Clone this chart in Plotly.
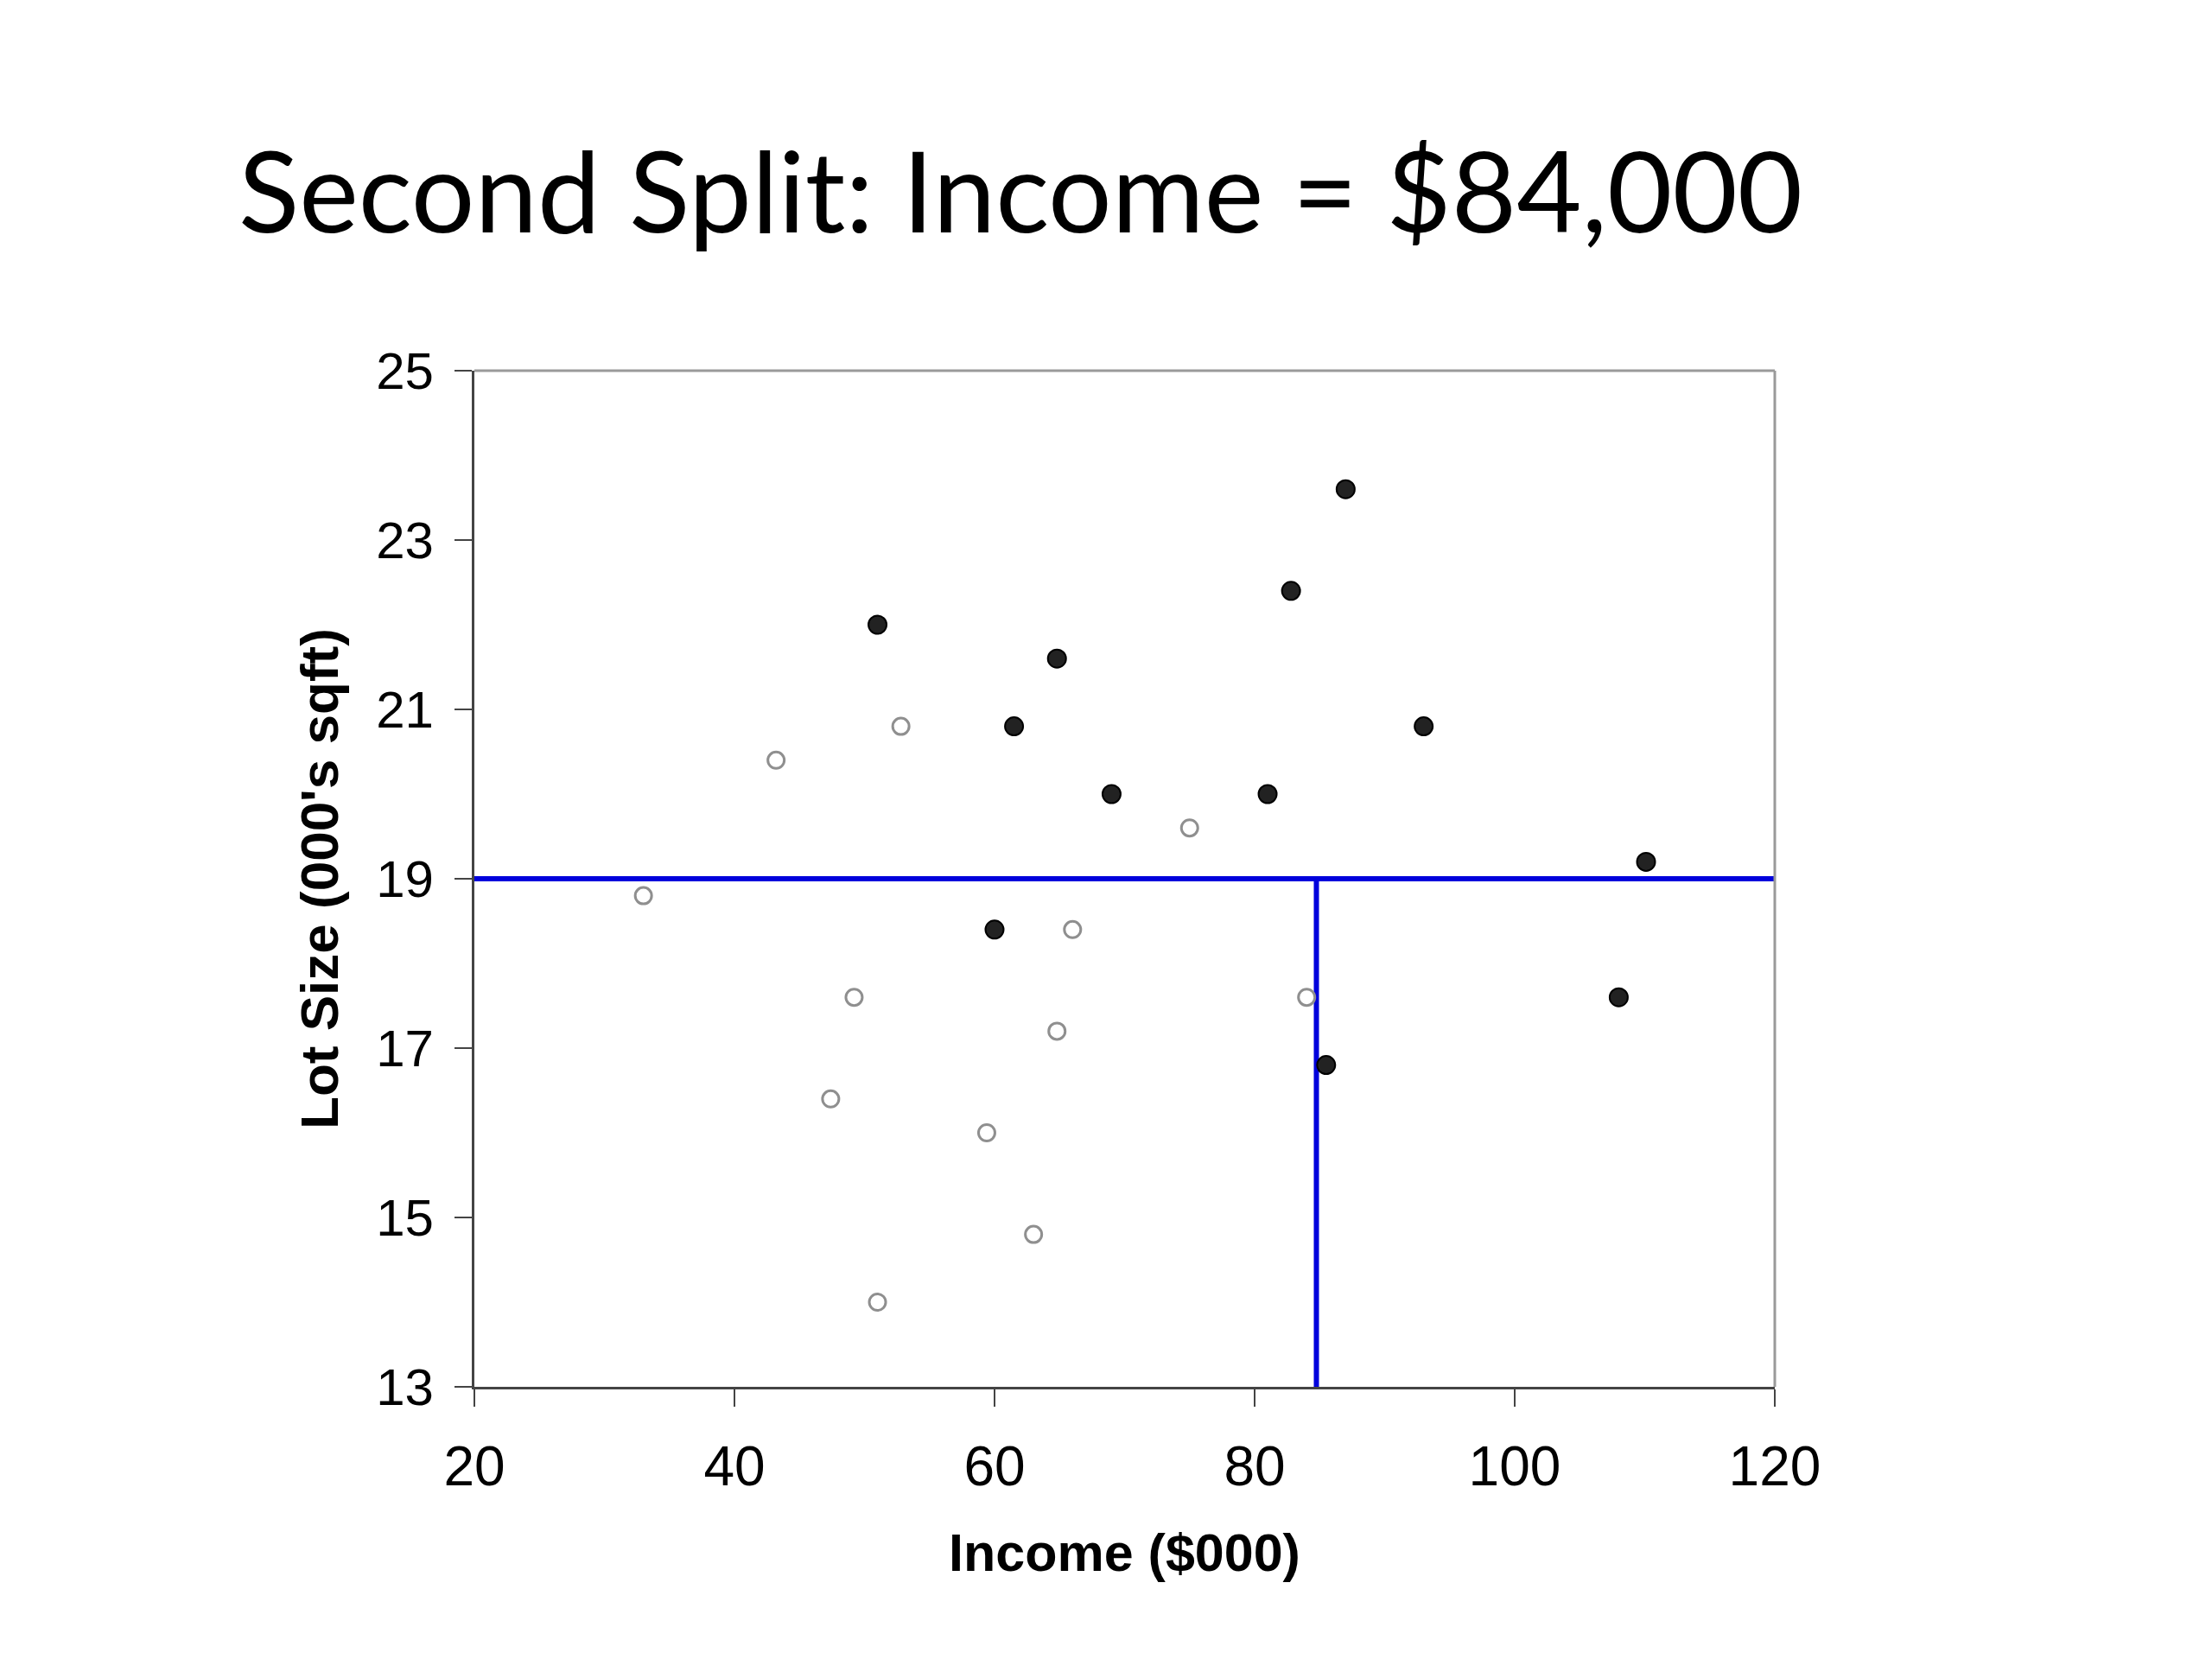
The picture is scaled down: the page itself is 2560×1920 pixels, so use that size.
import plotly.graph_objects as go

# Riding mowers data (Income $000, Lot Size 000's sqft)
owner_income = [60.0, 85.5, 64.8, 61.5, 87.0, 110.1, 108.0, 82.8, 69.0, 93.0, 51.0, 81.0]
owner_lot = [18.4, 16.8, 21.6, 20.8, 23.6, 19.2, 17.6, 22.4, 20.0, 20.8, 22.0, 20.0]
nonowner_income = [75.0, 52.8, 64.8, 43.2, 84.0, 49.2, 59.4, 66.0, 47.4, 33.0, 51.0, 63.0]
nonowner_lot = [19.6, 20.8, 17.2, 20.4, 17.6, 17.6, 16.0, 18.4, 16.4, 18.8, 14.0, 14.8]

first_split_lot = 19.0
second_split_income = 84.75
x_range = [20, 120]
y_range = [13, 25]
x_ticks = [20, 40, 60, 80, 100, 120]
y_ticks = [13, 15, 17, 19, 21, 23, 25]

fig = go.Figure()

fig.add_trace(go.Scatter(
    x=[x_range[0], x_range[1]], y=[first_split_lot, first_split_lot],
    mode="lines", line=dict(color="#0000DC", width=6), showlegend=False, hoverinfo="skip"))
fig.add_trace(go.Scatter(
    x=[second_split_income, second_split_income], y=[y_range[0], first_split_lot],
    mode="lines", line=dict(color="#0000DC", width=6), showlegend=False, hoverinfo="skip"))

fig.add_trace(go.Scatter(
    x=nonowner_income, y=nonowner_lot, mode="markers", name="Nonowners",
    marker=dict(size=19, color="white", line=dict(color="#8f8f8f", width=3)),
    showlegend=False))
fig.add_trace(go.Scatter(
    x=owner_income, y=owner_lot, mode="markers", name="Owners",
    marker=dict(size=21, color="#222222", line=dict(color="#000000", width=2)),
    showlegend=False))

# top / right frame in lighter gray
fig.add_shape(type="line", xref="paper", yref="paper", x0=0, x1=1, y0=1, y1=1,
              line=dict(color="#9a9a9a", width=3))
fig.add_shape(type="line", xref="paper", yref="paper", x0=1, x1=1, y0=0, y1=1,
              line=dict(color="#9a9a9a", width=3))

fig.update_layout(
    width=2560, height=1920,
    paper_bgcolor="white", plot_bgcolor="white",
    margin=dict(l=541, r=514, t=421, b=323),
    title=dict(text="Second Split: Income = $84,000",
               font=dict(family="Lato", size=130, color="black"),
               xref="container", yref="container", x=268/2560, xanchor="left",
               y=1-215/1920, yanchor="middle"),
    xaxis=dict(range=x_range, tickvals=x_ticks, showgrid=False, zeroline=False,
               showline=True, linecolor="#444444", linewidth=3,
               ticks="outside", ticklen=20, tickwidth=2, tickcolor="#444444",
               ticklabelstandoff=14,
               tickfont=dict(family="Liberation Sans", size=64, color="black"),
               title=dict(text="<b>Income ($000)</b>", standoff=44,
                          font=dict(family="Liberation Sans", size=61, color="black"))),
    yaxis=dict(range=y_range, tickvals=y_ticks, showgrid=False, zeroline=False,
               showline=True, linecolor="#444444", linewidth=3,
               ticks="outside", ticklen=20, tickwidth=2, tickcolor="#444444",
               ticklabelstandoff=12,
               tickfont=dict(family="Liberation Sans", size=60, color="black"),
               title=dict(text="<b>Lot Size (000's sqft)</b>", standoff=24,
                          font=dict(family="Liberation Sans", size=62, color="black"))),
)

fig.write_html("out.html")
